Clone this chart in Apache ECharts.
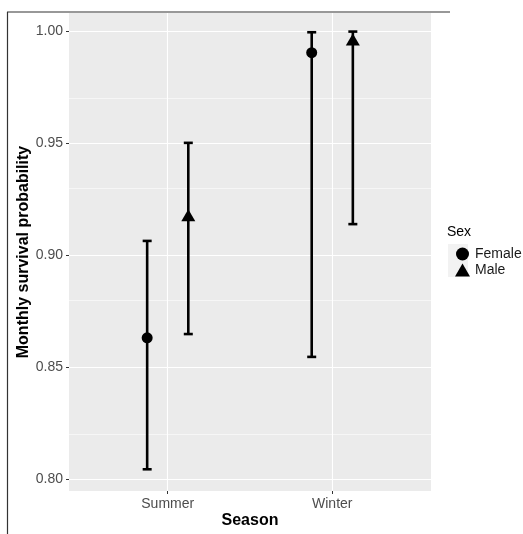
<!DOCTYPE html>
<html>
<head>
<meta charset="utf-8">
<script src="https://cdn.jsdelivr.net/npm/echarts@6/dist/echarts.min.js"></script>
<style>
  html, body { margin: 0; padding: 0; background: #fff; }
  #chart { width: 523px; height: 534px; }
</style>
</head>
<body>
<div id="chart"></div>
<script>
// data
var seasons = ['Summer', 'Winter'];
var femaleEst = [0.8632, 0.9906];
var femaleLow = [0.8045, 0.8547];
var femaleHigh = [0.9065, 0.9997];
var maleEst = [0.918, 0.9965];
var maleLow = [0.8649, 0.914];
var maleHigh = [0.9503, 1.000];
var yTicks = [0.80, 0.85, 0.90, 0.95, 1.00];
var yMinor = [0.825, 0.875, 0.925, 0.975];

var dodge = 0.125;   // position_dodge offset
var font = 'Liberation Sans, Arial, Helvetica, sans-serif';

var femalePts = [], malePts = [], bars = [];
seasons.forEach(function (s, i) {
  femalePts.push([i + 1 - dodge, femaleEst[i]]);
  malePts.push([i + 1 + dodge, maleEst[i]]);
  bars.push([i + 1 - dodge, femaleLow[i], femaleHigh[i]]);
  bars.push([i + 1 + dodge, maleLow[i], maleHigh[i]]);
});

// white grid lines, drawn under the marks
var gridLines = [];
yTicks.forEach(function (v) { gridLines.push({ yAxis: v, lineStyle: { width: 1.1 } }); });
yMinor.forEach(function (v) { gridLines.push({ yAxis: v, lineStyle: { width: 0.55 } }); });
seasons.forEach(function (s, i) { gridLines.push({ xAxis: i + 1, lineStyle: { width: 1.1 } }); });

var chart = echarts.init(document.getElementById('chart'));

var option = {
  animation: false,
  backgroundColor: '#fff',
  grid: {
    left: 69, right: 92, top: 13, bottom: 43,
    show: true, backgroundColor: '#EBEBEB', borderWidth: 0
  },
  xAxis: {
    type: 'value', min: 0.4, max: 2.6,
    axisLine: { show: false },
    splitLine: { show: false },
    axisTick: { show: true, length: 3, customValues: [1, 2], lineStyle: { color: '#333', width: 1 } },
    axisLabel: {
      customValues: [1, 2], margin: 6, color: '#4D4D4D', fontSize: 14, fontFamily: font,
      formatter: function (v) { return seasons[Math.round(v) - 1]; }
    }
  },
  yAxis: {
    type: 'value', min: 0.7948, max: 1.0083,
    axisLine: { show: false },
    splitLine: { show: false },
    axisTick: { show: true, length: 3, customValues: yTicks, lineStyle: { color: '#333', width: 1 } },
    axisLabel: {
      customValues: yTicks, margin: 6, color: '#4D4D4D', fontSize: 14, fontFamily: font,
      formatter: function (v) { return v.toFixed(2); }
    }
  },
  legend: {
    orient: 'vertical', left: 450, top: 242,
    itemWidth: 15, itemHeight: 13, itemGap: 2,
    textStyle: { fontSize: 14, color: '#1a1a1a', fontFamily: font },
    data: [{ name: 'Female', icon: 'circle' }, { name: 'Male', icon: 'triangle' }]
  },
  graphic: [
    { type: 'line', shape: { x1: 7.5, y1: 12, x2: 7.5, y2: 534 }, style: { stroke: '#333', lineWidth: 1.2 } },
    { type: 'line', shape: { x1: 7, y1: 12, x2: 450, y2: 12 }, style: { stroke: '#333', lineWidth: 1.2 } },
    { type: 'rect', shape: { x: 448, y: 244, width: 20, height: 33 }, style: { fill: '#F2F2F2' }, z: -1 },
    { type: 'text', x: 447, y: 232, style: { text: 'Sex', fontSize: 14, fill: '#000', fontFamily: font, verticalAlign: 'middle' } },
    { type: 'text', x: 250, y: 521, style: { text: 'Season', fontSize: 16, fontWeight: 'bold', fill: '#000', fontFamily: font, align: 'center', verticalAlign: 'middle' } },
    { type: 'text', x: 24, y: 252, rotation: Math.PI / 2, style: { text: 'Monthly survival probability', fontSize: 16, fontWeight: 'bold', fill: '#000', fontFamily: font, align: 'center', verticalAlign: 'middle' } }
  ],
  series: [
    {
      type: 'line', data: [], z: 1, silent: true,
      markLine: {
        z: 1, silent: true, symbol: ['none', 'none'], label: { show: false }, animation: false,
        lineStyle: { color: '#fff', type: 'solid' },
        data: gridLines
      }
    },
    {
      type: 'custom', z: 3, silent: true,
      data: bars,
      encode: { x: 0, y: [1, 2] },
      renderItem: function (params, api) {
        var x = api.value(0);
        var lo = api.coord([x, api.value(1)]);
        var hi = api.coord([x, api.value(2)]);
        var hw = 4.5;
        var st = { stroke: '#000', lineWidth: 2.6 };
        return {
          type: 'group',
          children: [
            { type: 'line', shape: { x1: lo[0], y1: lo[1], x2: hi[0], y2: hi[1] }, style: st },
            { type: 'line', shape: { x1: lo[0] - hw, y1: lo[1], x2: lo[0] + hw, y2: lo[1] }, style: st },
            { type: 'line', shape: { x1: hi[0] - hw, y1: hi[1], x2: hi[0] + hw, y2: hi[1] }, style: st }
          ]
        };
      }
    },
    {
      name: 'Female', type: 'scatter', z: 4, symbol: 'circle', symbolSize: 11,
      itemStyle: { color: '#000', opacity: 1 }, data: femalePts
    },
    {
      name: 'Male', type: 'scatter', z: 4, symbol: 'triangle', symbolSize: [14, 12],
      itemStyle: { color: '#000', opacity: 1 }, data: malePts
    }
  ]
};

chart.setOption(option);
</script>
</body>
</html>
